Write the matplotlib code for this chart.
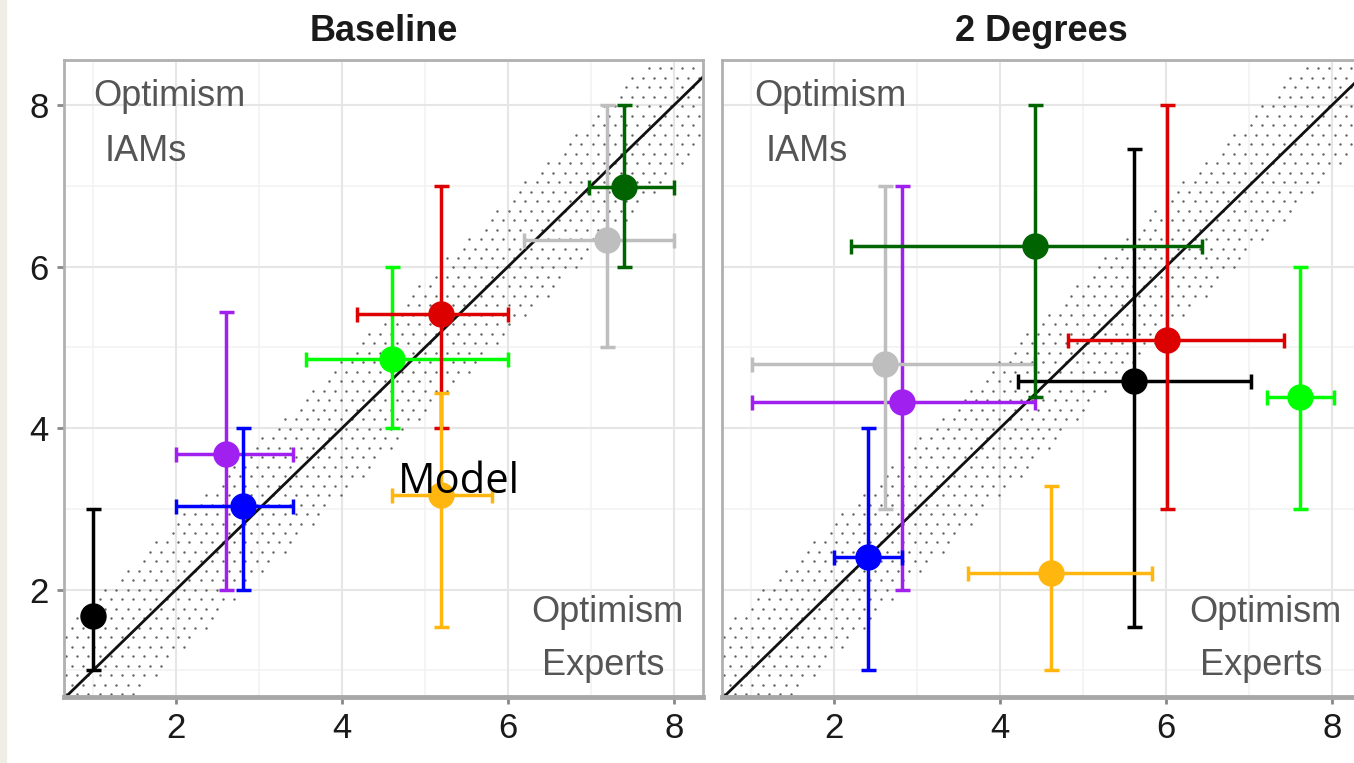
import numpy as np
import matplotlib.pyplot as plt
from matplotlib.patches import Rectangle

plt.rcParams['font.family'] = ['Liberation Sans', 'DejaVu Sans']

# ---- data ----
panels = ["Baseline", "2 Degrees"]
colors = ["black", "#A020F0", "#0000FF", "#00FF00", "#DD0000", "#FFB60F", "#BEBEBE", "#006400"]

# Baseline
base_x = [1.0, 2.6, 2.81, 4.6, 5.19, 5.19, 7.19, 7.4]
base_y = [1.67, 3.68, 3.04, 4.86, 5.42, 3.17, 6.33, 6.99]
base_xlo = [1.0, 2.0, 2.0, 3.57, 4.18, 4.6, 6.19, 6.98]
base_xhi = [1.0, 3.41, 3.41, 6.0, 6.0, 5.81, 8.0, 8.0]
base_ylo = [1.0, 2.0, 2.0, 4.0, 4.0, 1.54, 5.0, 6.0]
base_yhi = [3.0, 5.44, 4.0, 6.0, 7.0, 4.44, 8.0, 8.0]

# 2 Degrees
deg_x = [5.61, 2.82, 2.41, 7.61, 6.01, 4.61, 2.61, 4.42]
deg_y = [4.58, 4.33, 2.41, 4.38, 5.09, 2.21, 4.8, 6.25]
deg_xlo = [4.22, 1.01, 2.0, 7.22, 4.82, 3.61, 1.01, 2.2]
deg_xhi = [7.02, 4.42, 2.82, 8.02, 7.42, 5.83, 4.42, 6.43]
deg_ylo = [1.54, 2.0, 1.0, 3.0, 3.0, 1.0, 3.0, 4.38]
deg_yhi = [7.46, 7.0, 4.0, 6.0, 8.0, 3.28, 7.0, 8.0]

band = 0.85
ticks = [2, 4, 6, 8]

fig = plt.figure(figsize=(13.54, 7.63), dpi=100)
fig.patches.append(Rectangle((0, 0), 6 / 1354, 1, transform=fig.transFigure,
                             color="#EEEEE6", zorder=0))

ax1 = fig.add_axes([64 / 1354, 1 - 697 / 763, 639 / 1354, 637 / 763])
ax2 = fig.add_axes([722 / 1354, 1 - 697 / 763, 639 / 1354, 637 / 763])

sets = [
    (ax1, base_x, base_y, base_xlo, base_xhi, base_ylo, base_yhi),
    (ax2, deg_x, deg_y, deg_xlo, deg_xhi, deg_ylo, deg_yhi),
]

# dot texture for the band (staggered lattice)
step = 0.135
gx, gy = np.meshgrid(np.arange(0, 10, step), np.arange(0, 10, step * 0.87))
gx = gx + (np.round(gy / (step * 0.87)) % 2) * step / 2
gx, gy = gx.ravel(), gy.ravel()
inside = np.abs(gy - gx) < band
dot_x, dot_y = gx[inside], gy[inside]

for i, (ax, x, y, xlo, xhi, ylo, yhi) in enumerate(sets):
    ax.set_xlim(0.65, 8.35)
    ax.set_ylim(0.67, 8.56)

    # grid
    for v in [1, 3, 5, 7]:
        ax.axvline(v, color="#F2F2F2", lw=1.2, zorder=0)
        ax.axhline(v, color="#F2F2F2", lw=1.2, zorder=0)
    for v in ticks:
        ax.axvline(v, color="#E6E6E6", lw=1.5, zorder=0)
        ax.axhline(v, color="#E6E6E6", lw=1.5, zorder=0)

    # dotted band around the diagonal
    ax.scatter(dot_x, dot_y, s=3, color="#606060", linewidths=0, zorder=1)
    ax.plot([0, 10], [0, 10], color="#111111", lw=2, zorder=2)

    for k in range(len(x)):
        ax.errorbar(x[k], y[k],
                    xerr=[[x[k] - xlo[k]], [xhi[k] - x[k]]],
                    yerr=[[y[k] - ylo[k]], [yhi[k] - y[k]]],
                    fmt="o", color=colors[k], ms=18, elinewidth=2.5,
                    capsize=5.4, capthick=2.5, zorder=3)

    ax.set_xticks(ticks)
    ax.set_yticks(ticks)
    ax.tick_params(labelsize=25, colors="#1a1a1a", length=5, width=2,
                   color="#888888", pad=6)
    if i == 1:
        ax.tick_params(axis="y", labelleft=False, length=0)
    for s in ["top", "left", "right"]:
        ax.spines[s].set_color("#B0B0B0")
        ax.spines[s].set_linewidth(2)
    ax.spines["bottom"].set_color("#A8A8A8")
    ax.spines["bottom"].set_linewidth(3.5)

    ax.set_title(panels[i], fontsize=26, fontweight="bold", color="#1a1a1a", pad=14)

    tc = "#555555"
    ax.text(1.0 + (0.04 if i else 0), 8.11, "Optimism", fontsize=26, color=tc,
            ha="left", va="center")
    ax.text(1.14 + (0.04 if i else 0), 7.43, "IAMs", fontsize=26, color=tc,
            ha="left", va="center")
    ax.text(7.2, 1.72, "Optimism", fontsize=26, color=tc, ha="center", va="center")
    ax.text(7.15, 1.06, "Experts", fontsize=26, color=tc, ha="center", va="center")

# overlay label
ax1.text(5.41, 3.33, "Model", fontsize=30, color="black", ha="center", va="center",
         family=["Open Sans", "DejaVu Sans"], zorder=5)

fig.savefig("out.png", dpi=100)
